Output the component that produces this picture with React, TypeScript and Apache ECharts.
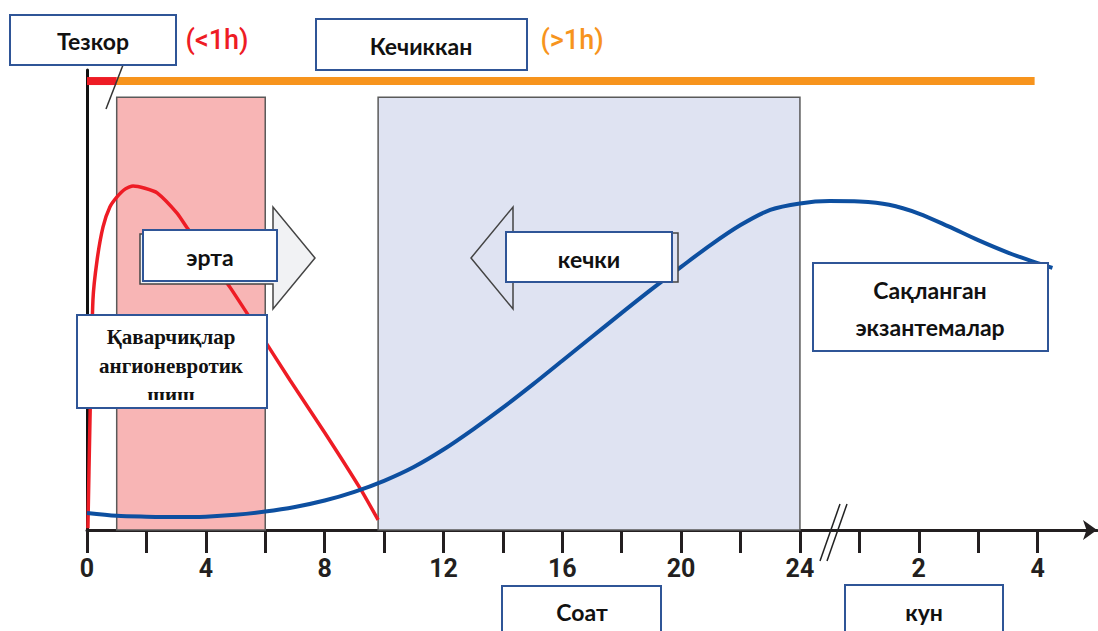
import React, { useEffect, useRef } from "react";
import * as echarts from "echarts";

// x positions: hours 0..24, then day d placed at 24 + 2*d (after the axis break)
const tickValues = [0, 2, 4, 6, 8, 10, 12, 14, 16, 18, 20, 22, 24, 26, 28, 30, 32];
const labelValues = [0, 4, 8, 12, 16, 20, 24, 28, 32];
const labelTexts = ["0", "4", "8", "12", "16", "20", "24", "2", "4"];

const redCurve = [
  [0.03, 0.4], [0.1, 23.9], [0.2, 50], [0.34, 58.7], [0.54, 65.9], [0.77, 70.2],
  [1.01, 72.4], [1.28, 74.1], [1.55, 74.8], [1.95, 74.3], [2.36, 73.3], [3.03, 68.9],
  [3.37, 65.7], [3.97, 60.4], [4.81, 52.8], [5.82, 42.8], [6.83, 32.6], [8.01, 21.1],
  [9.19, 9.1], [9.8, 2.2],
];
const blueCurve = [
  [0, 3.7], [1, 3.1], [2, 2.9], [3, 2.8], [4, 2.9], [5, 3.3], [6, 4.0], [7, 5.0],
  [8, 6.4], [9, 8.3], [10, 10.7], [11, 13.7], [12, 17.5], [13, 21.9], [14, 26.6],
  [15, 31.6], [16, 36.8], [17, 42.0], [18, 47.2], [19, 52.3], [20, 57.2], [21, 62.0],
  [22, 66.3], [23, 69.6], [24, 71.0], [25, 71.5], [26, 71.4], [27, 70.7], [28, 68.8],
  [29, 66.0], [30, 63.0], [31, 60.3], [32, 58.0], [32.5, 57.0],
];
const redBar = [[0, 97.6], [1, 97.6]];
const orangeBar = [[1, 97.6], [31.9, 97.6]];
const earlyZone = [1, 6];
const lateZone = [9.8, 24];
const zoneTop = 94.1;

const BLUE = "#2f5597";
const SANS = "Lato, 'Open Sans', sans-serif";

function box(x: number, y: number, w: number, h: number, z = 20) {
  return {
    type: "rect",
    z,
    shape: { x, y, width: w, height: h },
    style: { fill: "#ffffff", stroke: BLUE, lineWidth: 2 },
  };
}
function label(x: number, y: number, text: string, opts: any = {}) {
  return {
    type: "text",
    z: opts.z ?? 21,
    x,
    y,
    style: {
      text,
      fill: opts.fill ?? "#111",
      fontSize: opts.fontSize ?? 22,
      fontWeight: opts.fontWeight ?? "bold",
      fontFamily: opts.fontFamily ?? SANS,
      align: "center",
      verticalAlign: "middle",
      lineHeight: opts.lineHeight,
    },
  };
}

export default function App() {
  const ref = useRef<HTMLDivElement>(null);
  useEffect(() => {
    if (!ref.current) return;
    const chart = echarts.init(ref.current, undefined, { renderer: "svg" });
    const option: any = {
      animation: false,
      grid: { left: 87, top: 70, width: 1010, height: 460, containLabel: false },
      xAxis: {
        type: "value",
        min: 0,
        max: 34,
        interval: 2,
        axisLine: {
          show: true,
          lineStyle: { color: "#231f20", width: 3 },
          symbol: ["none", "arrow"],
          symbolSize: [15, 14],
        },
        axisTick: {
          show: true,
          length: 23,
          customValues: tickValues,
          lineStyle: { color: "#231f20", width: 3 },
        },
        axisLabel: {
          customValues: labelValues,
          formatter: (v: number) => {
            const i = labelValues.indexOf(v);
            return i >= 0 ? labelTexts[i] : "";
          },
          fontFamily: "Roboto",
          fontWeight: "bold",
          fontSize: 25,
          color: "#231f20",
          margin: 26,
        },
        splitLine: { show: false },
      },
      yAxis: {
        type: "value",
        min: 0,
        max: 100,
        axisLine: { show: true, onZero: false, lineStyle: { color: "#111", width: 3 } },
        axisTick: { show: false },
        axisLabel: { show: false },
        splitLine: { show: false },
      },
      series: [
        {
          type: "line",
          z: 1,
          data: orangeBar,
          symbol: "none",
          lineStyle: { color: "#f7941d", width: 8 },
          markArea: {
            silent: true,
            itemStyle: { borderColor: "#5a5a5a", borderWidth: 1.5, opacity: 1 },
            data: [
              [
                { xAxis: earlyZone[0], yAxis: 0, itemStyle: { color: "#f8b5b5" } },
                { xAxis: earlyZone[1], yAxis: zoneTop },
              ],
              [
                { xAxis: lateZone[0], yAxis: 0, itemStyle: { color: "#dfe3f2" } },
                { xAxis: lateZone[1], yAxis: zoneTop },
              ],
            ],
          },
        },
        {
          type: "line",
          z: 2,
          data: redBar,
          symbol: "none",
          lineStyle: { color: "#ee1c25", width: 8 },
        },
        {
          type: "line",
          z: 3,
          data: redCurve,
          symbol: "none",
          smooth: 0.2,
          lineStyle: { color: "#ee1c25", width: 3.5 },
        },
        {
          type: "line",
          z: 4,
          data: blueCurve,
          symbol: "none",
          smooth: 0.3,
          lineStyle: { color: "#0d4fa0", width: 4 },
        },
      ],
      graphic: [
        // pointer line from "Тезкор"
        { type: "line", z: 10, shape: { x1: 123, y1: 65, x2: 106, y2: 109 }, style: { stroke: "#333", lineWidth: 1.5 } },
        // right arrow (early)
        {
          type: "polygon",
          z: 10,
          shape: { points: [[140, 234], [273, 234], [273, 207], [315, 258], [273, 309], [273, 284], [140, 284]] },
          style: { fill: "#f1f2f4", stroke: "#444", lineWidth: 1.5 },
        },
        // left arrow (late)
        {
          type: "polygon",
          z: 10,
          shape: { points: [[678, 233], [513, 233], [513, 207], [471, 258], [513, 309], [513, 282], [678, 282]] },
          style: { fill: "#dfe3f2", stroke: "#444", lineWidth: 1.5 },
        },
        // axis break marks
        { type: "line", z: 12, shape: { x1: 840, y1: 504, x2: 820, y2: 561 }, style: { stroke: "#222", lineWidth: 1.5 } },
        { type: "line", z: 12, shape: { x1: 847, y1: 504, x2: 827, y2: 561 }, style: { stroke: "#222", lineWidth: 1.5 } },

        box(10, 15, 166, 50),
        label(93, 41, "Тезкор", { fontSize: 23 }),
        label(217, 40, "(<1h)", { fill: "#ee1c25", fontSize: 27, fontFamily: "Roboto", fontWeight: 500 }),
        box(316, 19, 211, 51),
        label(421, 46, "Кечиккан", { fontSize: 23 }),
        label(572, 40, "(>1h)", { fill: "#f7941d", fontSize: 27, fontFamily: "Roboto", fontWeight: 500 }),

        box(143, 230, 134, 51),
        label(210, 257, "эрта", { fontSize: 23 }),
        box(506, 232, 166, 50),
        label(589, 259, "кечки", { fontSize: 23 }),

        box(77, 315, 190, 93),
        label(171, 366, "Қаварчиқлар\nангионевротик\nшиш", {
          fontSize: 21,
          lineHeight: 29,
          fontFamily: "'Liberation Serif', 'DejaVu Serif', serif",
        }),
        { type: "rect", z: 22, shape: { x: 79, y: 400, width: 186, height: 7 }, style: { fill: "#ffffff" } },

        box(813, 263, 235, 88),
        label(930, 308, "Сақланган\nэкзантемалар", { fontSize: 23, lineHeight: 37 }),

        box(502, 586, 159, 60),
        label(582, 612, "Соат", { fontSize: 23 }),
        box(845, 585, 158, 60),
        label(924, 612, "кун", { fontSize: 23 }),
      ],
    };
    chart.setOption(option);
    return () => chart.dispose();
  }, []);
  return (
    <div
      ref={ref}
      style={{ position: "fixed", left: 0, top: 0, width: 1098, height: 631, background: "#fff" }}
    />
  );
}
